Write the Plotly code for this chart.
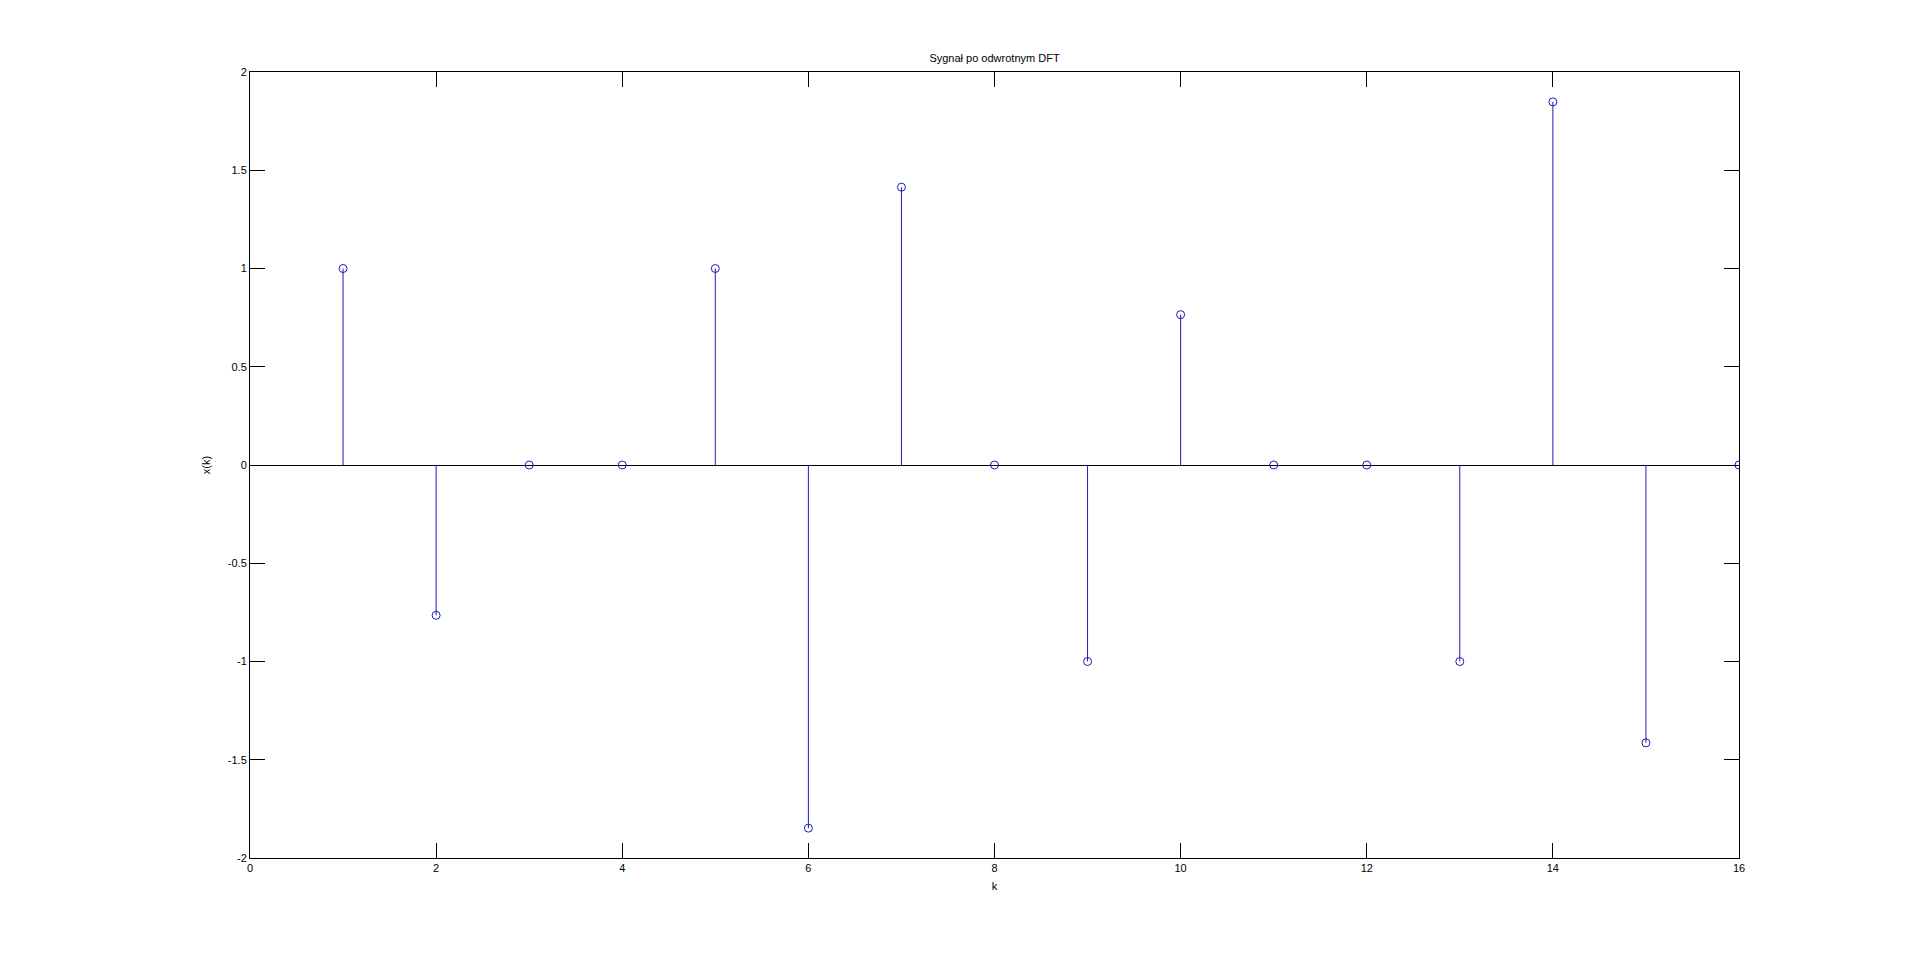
import plotly.graph_objects as go

k = list(range(1, 17))
x_vals = [1.0, -0.765, 0.0, 0.0, 1.0, -1.848, 1.414, 0.0,
          -1.0, 0.765, 0.0, 0.0, -1.0, 1.848, -1.414, 0.0]
x_ticks = [0, 2, 4, 6, 8, 10, 12, 14, 16]
y_ticks = [-2, -1.5, -1, -0.5, 0, 0.5, 1, 1.5, 2]
y_tick_text = ["-2", "-1.5", "-1", "-0.5", "0", "0.5", "1", "1.5", "2"]

stem_x, stem_y = [], []
for kk, v in zip(k, x_vals):
    stem_x += [kk, kk, None]
    stem_y += [0, v, None]

BLUE = "#1c1cb4"
fig = go.Figure()
fig.add_trace(go.Scatter(x=stem_x, y=stem_y, mode="lines",
                         line=dict(color=BLUE, width=1), hoverinfo="skip",
                         showlegend=False))
fig.add_trace(go.Scatter(x=k, y=x_vals, mode="markers",
                         marker=dict(symbol="circle-open", size=8,
                                     color=BLUE, line=dict(width=1, color=BLUE)),
                         showlegend=False))

W, H = 1913, 956
L, R, T, B = 242, 1913 - 1731, 64, 956 - 850
font = dict(family="Liberation Sans, Arial, sans-serif", size=11, color="black")
fig.update_layout(
    width=W, height=H,
    margin=dict(l=L, r=R, t=T, b=B),
    paper_bgcolor="white", plot_bgcolor="white",
    font=font,
    title=dict(text="Sygnał po odwrotnym DFT", x=(L + W - R) / 2 / W, xanchor="center",
               y=1 - 50 / H, yanchor="middle", yref="container",
               font=dict(family="Liberation Sans, Arial, sans-serif", size=11, color="black")),
    xaxis=dict(range=[0, 16], tickvals=x_ticks, ticks="inside", ticklen=15,
               tickcolor="black", showline=True, linecolor="black", linewidth=1,
               mirror="ticks", showgrid=False, zeroline=False,
               title=dict(text="k", standoff=9, font=font), tickfont=font),
    yaxis=dict(range=[-2, 2], tickvals=y_ticks, ticktext=y_tick_text, ticks="inside",
               ticklen=15, tickcolor="black", showline=True, linecolor="black",
               linewidth=1, mirror="ticks", showgrid=False, zeroline=True,
               zerolinecolor="black", zerolinewidth=1,
               title=dict(text="x(k)", standoff=14, font=font), tickfont=font),
)

fig.write_html("out.html")
